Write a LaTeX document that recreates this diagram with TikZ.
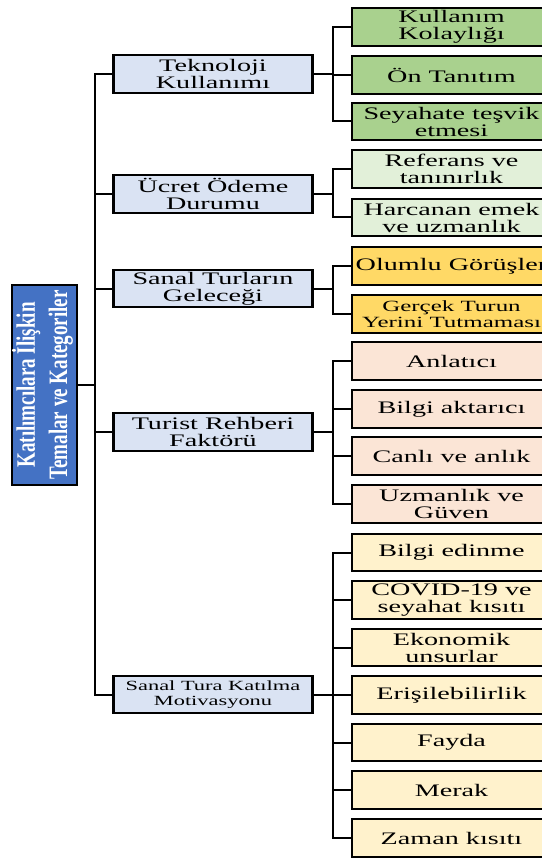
\documentclass[tikz,border=0pt]{standalone}
\usepackage{fontspec}
\setmainfont{Liberation Serif}[FakeStretch=1.6]
\newfontfamily\rootfont{Liberation Serif}
\usepackage{graphicx}
\definecolor{rootblue}{HTML}{4472C4}
\definecolor{midblue}{HTML}{DAE3F3}
\definecolor{greenA}{HTML}{A9D18E}
\definecolor{greenB}{HTML}{E2F0D9}
\definecolor{goldC}{HTML}{FFD966}
\definecolor{peachD}{HTML}{FBE5D6}
\definecolor{creamE}{HTML}{FFF2CC}
\begin{document}
\begin{tikzpicture}[x=1pt,y=-1pt,
  box/.style={draw=black, line width=2.2pt, minimum width=199pt, minimum height=37.5pt,
    inner sep=0pt, align=center, text=black, font=\fontsize{17.6}{17}\selectfont},
  mid/.style={box, fill=midblue},
  leafA/.style={box, fill=greenA},
  leafB/.style={box, fill=greenB},
  leafC/.style={box, fill=goldC},
  leafD/.style={box, fill=peachD},
  leafE/.style={box, fill=creamE},
  conn/.style={line width=2pt, draw=black}]
\useasboundingbox (0,0) rectangle (541,858);

% root
\node[draw=black, line width=2pt, fill=rootblue, minimum width=63pt, minimum height=200pt, inner sep=0pt,
  text=white] (root) at (44.5,385)
  {\rotatebox{90}{\scalebox{1}[1.4]{\rootfont\bfseries\fontsize{19}{23}\selectfont
   \begin{tabular}{@{}c@{}}Katılımcılara İlişkin\\Temalar ve Kategoriler\end{tabular}}}};

% middle nodes
\node[mid] (tek) at (213,74) {Teknoloji\\Kullanımı};
\node[mid] (ucr) at (213,194) {Ücret Ödeme\\Durumu};
\node[mid] (gel) at (213,288.5) {Sanal Turların\\Geleceği};
\node[mid] (tur) at (213,432) {Turist Rehberi\\Faktörü};
\node[mid, font=\fontsize{14}{14.5}\selectfont] (mot) at (213,694.5) {Sanal Tura Katılma\\Motivasyonu};

% leaves
\node[leafA] (k1) at (451.5,27) {Kullanım\\Kolaylığı};
\node[leafA] (k2) at (451.5,75) {Ön Tanıtım};
\node[leafA] (k3) at (451.5,121.5) {Seyahate teşvik\\etmesi};
\node[leafB] (u1) at (451.5,169) {Referans ve\\tanınırlık};
\node[leafB] (u2) at (451.5,217.5) {Harcanan emek\\ve uzmanlık};
\node[leafC] (g1) at (451.5,266) {Olumlu Görüşler};
\node[leafC, font=\fontsize{15.6}{15.5}\selectfont] (g2) at (451.5,314) {Gerçek Turun\\Yerini Tutmaması};
\node[leafD] (a1) at (451.5,361) {Anlatıcı};
\node[leafD] (a2) at (451.5,409) {Bilgi aktarıcı};
\node[leafD] (a3) at (451.5,456) {Canlı ve anlık};
\node[leafD] (a4) at (451.5,504) {Uzmanlık ve\\Güven};
\node[leafE] (m1) at (451.5,552.5) {Bilgi edinme};
\node[leafE] (m2) at (451.5,600) {COVID-19 ve\\seyahat kısıtı};
\node[leafE] (m3) at (451.5,647.5) {Ekonomik\\unsurlar};
\node[leafE] (m4) at (451.5,695) {Erişilebilirlik};
\node[leafE] (m5) at (451.5,742.5) {Fayda};
\node[leafE] (m6) at (451.5,790) {Merak};
\node[leafE] (m7) at (451.5,838) {Zaman kısıtı};

% connector columns
\coordinate (tx) at (95,0);
\coordinate (gx) at (333,0);

% trunk
\draw[conn] (tek.west) -- (tek.west -| tx) -- (mot.west -| tx) -- (mot.west);
\draw[conn] (root.east) -- (root.east -| tx);
\draw[conn] (ucr.west) -- (ucr.west -| tx);
\draw[conn] (gel.west) -- (gel.west -| tx);
\draw[conn] (tur.west) -- (tur.west -| tx);

% groups
\draw[conn] (k1.west) -- (k1.west -| gx) -- (k3.west -| gx) -- (k3.west);
\draw[conn] (tek.east) -- (tek.east -| gx);
\draw[conn] (k2.west) -- (k2.west -| gx);

\draw[conn] (u1.west) -- (u1.west -| gx) -- (u2.west -| gx) -- (u2.west);
\draw[conn] (ucr.east) -- (ucr.east -| gx);

\draw[conn] (g1.west) -- (g1.west -| gx) -- (g2.west -| gx) -- (g2.west);
\draw[conn] (gel.east) -- (gel.east -| gx);

\draw[conn] (a1.west) -- (a1.west -| gx) -- (a4.west -| gx) -- (a4.west);
\draw[conn] (tur.east) -- (tur.east -| gx);
\draw[conn] (a2.west) -- (a2.west -| gx);
\draw[conn] (a3.west) -- (a3.west -| gx);

\draw[conn] (m1.west) -- (m1.west -| gx) -- (m7.west -| gx) -- (m7.west);
\draw[conn] (mot.east) -- (mot.east -| gx);
\draw[conn] (m2.west) -- (m2.west -| gx);
\draw[conn] (m3.west) -- (m3.west -| gx);
\draw[conn] (m4.west) -- (m4.west -| gx);
\draw[conn] (m5.west) -- (m5.west -| gx);
\draw[conn] (m6.west) -- (m6.west -| gx);
\end{tikzpicture}
\end{document}
